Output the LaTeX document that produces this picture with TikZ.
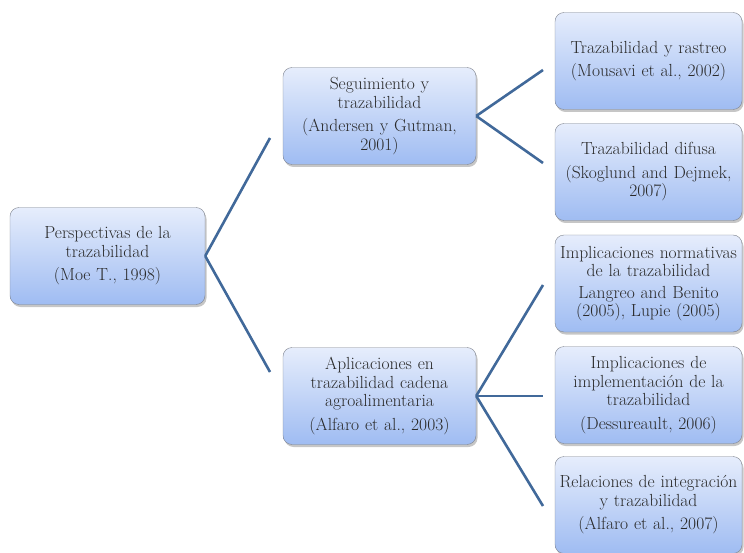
\documentclass[tikz,border=0pt]{standalone}
\usepackage{fontspec}
\usetikzlibrary{positioning,shadows}
\definecolor{boxtop}{HTML}{E6EDFC}
\definecolor{boxbottom}{HTML}{9FBCF2}
\definecolor{boxline}{HTML}{7F848E}
\definecolor{linkblue}{HTML}{41699A}
\definecolor{boxtext}{HTML}{2A2A2A}
\tikzset{
	every picture/.style={x=1pt, y=-1pt},
	box/.style={rectangle, rounded corners=9pt, draw=boxline, thin, top color=boxtop, bottom color=boxbottom,
		minimum height=97pt, inner sep=1pt, align=center, text=boxtext, font=\fontsize{17.5}{18.5}\selectfont,
		drop shadow={opacity=0.45, shadow xshift=1.5pt, shadow yshift=-2.5pt}},
	link/.style={draw=linkblue, line width=2.6pt},
}

\begin{document}
\begin{tikzpicture}
	\useasboundingbox (0,0) rectangle (744,553);
	% root
	\node[box, minimum width=195pt, text width=190pt] (perspectivas) at (107.5,256) {Perspectivas de la\\trazabilidad\\[5pt](Moe T., 1998)};
	% second level
	\node[box, minimum width=193pt, text width=190pt] (seguimiento) at (379.5,116) {Seguimiento y\\trazabilidad\\[5pt](Andersen y Gutman,\\2001)};
	\node[box, minimum width=193pt, text width=190pt] (aplicaciones) at (379.5,396) {Aplicaciones en\\trazabilidad cadena\\agroalimentaria\\[5pt](Alfaro et al., 2003)};
	% third level
	\node[box, minimum width=187pt, text width=185pt] (rastreo) at (648.5,61) {Trazabilidad y rastreo\\[5pt](Mousavi et al., 2002)};
	\node[box, minimum width=187pt, text width=185pt] (difusa) at (648.5,172) {Trazabilidad difusa\\[5pt](Skoglund and Dejmek,\\2007)};
	\node[box, minimum width=187pt, text width=185pt] (normativas) at (648.5,283.5) {Implicaciones normativas\\de la trazabilidad\\[3pt]Langreo and Benito\\(2005), Lupie (2005)};
	\node[box, minimum width=187pt, text width=185pt] (implementacion) at (648.5,395) {Implicaciones de\\implementación de la\\trazabilidad\\[5pt](Dessureault, 2006)};
	\node[box, minimum width=187pt, text width=185pt] (integracion) at (648.5,505) {Relaciones de integración\\y trazabilidad\\[5pt](Alfaro et al., 2007)};

	% free ends of the connectors
	\coordinate (p1) at (270,138);
	\coordinate (p2) at (270,372);
	\coordinate (s1) at (543,70);
	\coordinate (s2) at (543,163);
	\coordinate (a1) at (543,285);
	\coordinate (a2) at (543,396);
	\coordinate (a3) at (543,506);

	\path[link] (perspectivas.east) -- (p1);
	\path[link] (perspectivas.east) -- (p2);
	\path[link] (seguimiento.east) -- (s1);
	\path[link] (seguimiento.east) -- (s2);
	\path[link] (aplicaciones.east) -- (a1);
	\path[link] (aplicaciones.east) -- (a2);
	\path[link] (aplicaciones.east) -- (a3);
\end{tikzpicture}
\end{document}
